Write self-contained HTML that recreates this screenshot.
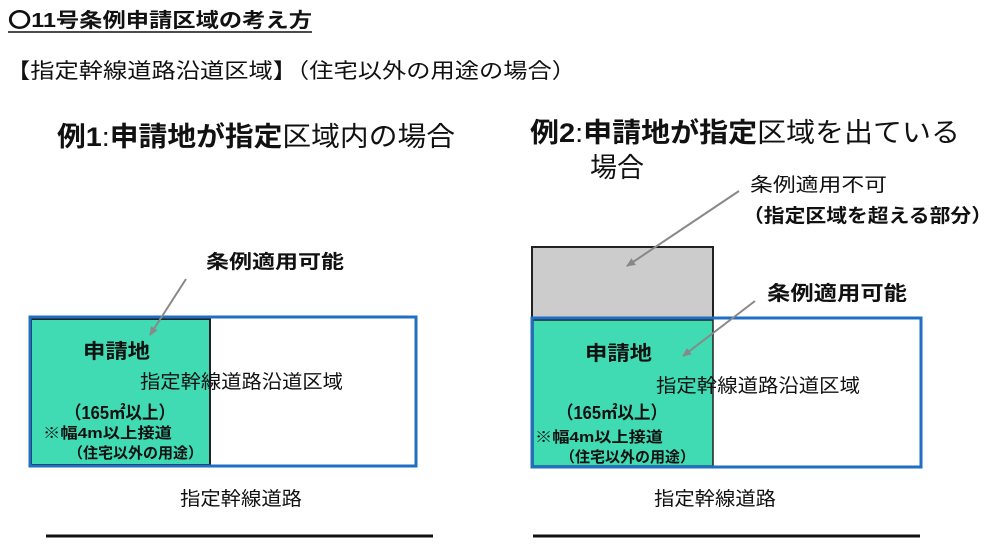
<!DOCTYPE html>
<html><head><meta charset="utf-8"><style>
body{margin:0;background:#fff;}
svg{display:block;}
text{font-family:"Liberation Sans","Noto Sans CJK JP",sans-serif;fill:#111;}
.b{font-weight:bold;}
</style></head><body>
<svg width="1000" height="557" viewBox="0 0 1000 557" xmlns="http://www.w3.org/2000/svg">
<defs><marker id="ah" markerWidth="10" markerHeight="10" refX="8" refY="5" orient="auto" markerUnits="userSpaceOnUse"><path d="M0,1 L9,5 L0,9 z" fill="#888"/></marker></defs>
<text x="8" y="27" font-size="20" class="b" textLength="304" lengthAdjust="spacingAndGlyphs">〇11号条例申請区域の考え方</text>
<line x1="8" y1="32" x2="312" y2="32" stroke="#111" stroke-width="1.5"/>
<text x="6" y="78" font-size="21" textLength="570" lengthAdjust="spacingAndGlyphs">【指定幹線道路沿道区域】（住宅以外の用途の場合）</text>

<text x="57" y="146" font-size="27" textLength="398" lengthAdjust="spacingAndGlyphs"><tspan class="b">例1</tspan>:<tspan class="b">申請地が指定</tspan>区域内の場合</text>
<text x="530" y="142" font-size="27" textLength="430" lengthAdjust="spacingAndGlyphs"><tspan class="b">例2</tspan>:<tspan class="b">申請地が指定</tspan>区域を出ている</text>
<text x="590" y="177" font-size="27" textLength="54" lengthAdjust="spacingAndGlyphs">場合</text>

<!-- left -->
<text x="206" y="268" font-size="19" class="b" textLength="138" lengthAdjust="spacingAndGlyphs">条例適用可能</text>
<rect x="30" y="317" width="386" height="149" fill="#fff" stroke="#1f6fc4" stroke-width="3"/>
<rect x="31" y="319" width="179" height="146" fill="#40dab3" stroke="#222" stroke-width="2"/>
<line x1="30" y1="317" x2="416" y2="317" stroke="#1f6fc4" stroke-width="3"/>
<line x1="30" y1="466" x2="416" y2="466" stroke="#1f6fc4" stroke-width="3"/>
<line x1="30" y1="317" x2="30" y2="466" stroke="#1f6fc4" stroke-width="3"/>
<line x1="186" y1="279" x2="150" y2="335" stroke="#888" stroke-width="2" marker-end="url(#ah)"/>
<text x="83" y="358" font-size="20" class="b" textLength="67" lengthAdjust="spacingAndGlyphs">申請地</text>
<text x="140" y="388" font-size="19" textLength="203" lengthAdjust="spacingAndGlyphs">指定幹線道路沿道区域</text>
<text x="65" y="419" font-size="18" class="b" textLength="110" lengthAdjust="spacingAndGlyphs">（165㎡以上）</text>
<text x="43" y="438" font-size="15" class="b" textLength="129" lengthAdjust="spacingAndGlyphs">※幅4m以上接道</text>
<text x="68" y="458" font-size="15" class="b" textLength="135" lengthAdjust="spacingAndGlyphs">（住宅以外の用途）</text>
<text x="180" y="505" font-size="19" textLength="122" lengthAdjust="spacingAndGlyphs">指定幹線道路</text>
<line x1="46" y1="536" x2="433" y2="536" stroke="#111" stroke-width="3"/>

<!-- right -->
<text x="750" y="191" font-size="19" textLength="137" lengthAdjust="spacingAndGlyphs">条例適用不可</text>
<text x="743" y="222" font-size="19" class="b" textLength="249" lengthAdjust="spacingAndGlyphs">（指定区域を超える部分）</text>
<rect x="532" y="247" width="181" height="71" fill="#cccccc" stroke="#222" stroke-width="2"/>
<rect x="532" y="318" width="389" height="149" fill="#fff" stroke="#1f6fc4" stroke-width="3"/>
<rect x="533" y="320" width="180" height="146" fill="#40dab3" stroke="#222" stroke-width="1.5"/>
<line x1="532" y1="318" x2="921" y2="318" stroke="#1f6fc4" stroke-width="3"/>
<line x1="532" y1="467" x2="921" y2="467" stroke="#1f6fc4" stroke-width="3"/>
<line x1="532" y1="318" x2="532" y2="467" stroke="#1f6fc4" stroke-width="3"/>
<line x1="739" y1="191" x2="627" y2="266" stroke="#888" stroke-width="2" marker-end="url(#ah)"/>
<line x1="755" y1="301" x2="683" y2="356" stroke="#888" stroke-width="2" marker-end="url(#ah)"/>
<text x="767" y="300" font-size="20" class="b" textLength="140" lengthAdjust="spacingAndGlyphs">条例適用可能</text>
<text x="585" y="360" font-size="20" class="b" textLength="67" lengthAdjust="spacingAndGlyphs">申請地</text>
<text x="656" y="392" font-size="19" textLength="204" lengthAdjust="spacingAndGlyphs">指定幹線道路沿道区域</text>
<text x="557" y="419" font-size="18" class="b" textLength="110" lengthAdjust="spacingAndGlyphs">（165㎡以上）</text>
<text x="535" y="442" font-size="15" class="b" textLength="128" lengthAdjust="spacingAndGlyphs">※幅4m以上接道</text>
<text x="560" y="462" font-size="15" class="b" textLength="135" lengthAdjust="spacingAndGlyphs">（住宅以外の用途）</text>
<text x="654" y="505" font-size="19" textLength="122" lengthAdjust="spacingAndGlyphs">指定幹線道路</text>
<line x1="533" y1="536" x2="920" y2="536" stroke="#111" stroke-width="3"/>
</svg>
</body></html>
